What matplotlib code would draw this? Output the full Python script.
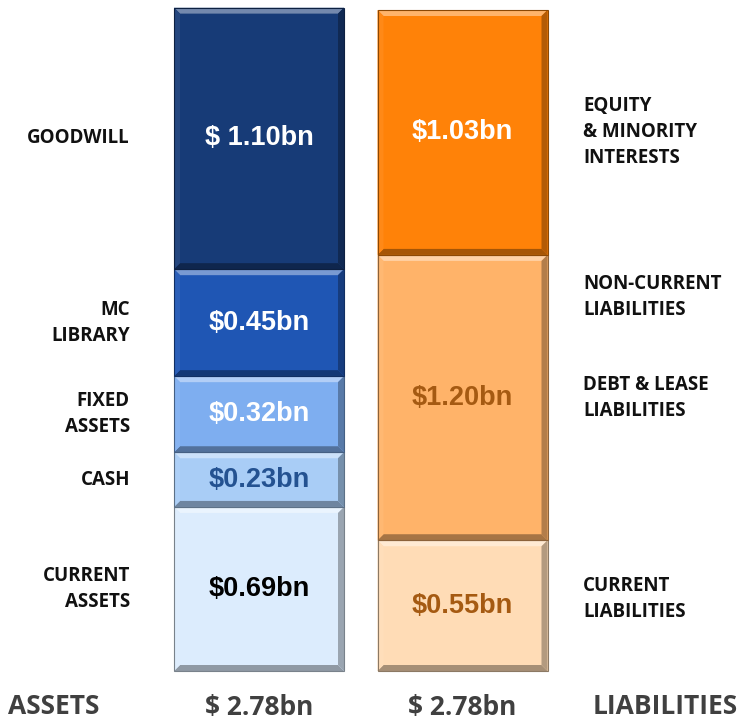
import numpy as np
import matplotlib
matplotlib.use("Agg")
import matplotlib.pyplot as plt
from matplotlib.patches import Polygon
from matplotlib.colors import to_rgb

# data
asset_names = ["CURRENT\nASSETS", "CASH", "FIXED\nASSETS", "MC\nLIBRARY", "GOODWILL"]
asset_values = [0.69, 0.23, 0.32, 0.45, 1.10]
asset_colors = ["#dcecfd", "#a9cdf6", "#7eaef0", "#1f56b4", "#173b77"]
asset_text_colors = ["#000000", "#245291", "#ffffff", "#ffffff", "#ffffff"]
asset_value_labels = ["$0.69bn", "$0.23bn", "$0.32bn", "$0.45bn", "$ 1.10bn"]

liab_values = [0.55, 1.20, 1.03]
liab_colors = ["#ffdcb6", "#ffb369", "#ff8208"]
liab_text_colors = ["#a55a12", "#a55a12", "#ffffff"]
liab_value_labels = ["$0.55bn", "$1.20bn", "$1.03bn"]
liab_names = ["CURRENT\nLIABILITIES", "DEBT & LEASE\nLIABILITIES", "EQUITY\n& MINORITY\nINTERESTS"]
extra_liab_label = "NON-CURRENT\nLIABILITIES"

total_label = "$ 2.78bn"

W, H = 740, 723
fig = plt.figure(figsize=(W / 100, H / 100), dpi=100)
ax = fig.add_axes([0, 0, 1, 1])

# pixel mapping: bar centres at 259 / 462.5 px, 0 at y=671 px, 2.78 at y=10 px
px_x = 203.5
px_y = (671 - 10) / 2.78
ax.set_xlim(-259 / px_x, (W - 259) / px_x)
ax.set_ylim(-(H - 671) / px_y, 2.78 + 10 / px_y)
ax.axis("off")

bar_w = 170 / px_x
bx, by = 6 / px_x, 6 / px_y


def mix(c, other, t):
    c = np.array(to_rgb(c))
    return tuple(c * (1 - t) + np.array(other) * t)


def bevel(rect, color):
    x0, y0 = rect.get_x(), rect.get_y()
    x1, y1 = x0 + rect.get_width(), y0 + rect.get_height()
    white, black = (1, 1, 1), (0, 0, 0)
    polys = [
        ([(x0, y1), (x1, y1), (x1 - bx, y1 - by), (x0 + bx, y1 - by)], mix(color, white, 0.4)),
        ([(x0, y0), (x1, y0), (x1 - bx, y0 + by), (x0 + bx, y0 + by)], mix(color, black, 0.35)),
        ([(x0, y0), (x0, y1), (x0 + bx, y1 - by), (x0 + bx, y0 + by)], mix(color, white, 0.06)),
        ([(x1, y0), (x1, y1), (x1 - bx, y1 - by), (x1 - bx, y0 + by)], mix(color, black, 0.3)),
    ]
    for pts, c in polys:
        ax.add_patch(Polygon(pts, closed=True, facecolor=c, edgecolor="none", zorder=3))
    ax.add_patch(plt.Rectangle((x0, y0), x1 - x0, y1 - y0, fill=False,
                               edgecolor=mix(color, black, 0.45), lw=0.8, zorder=4))


def stack(xpos, values, colors, texts, tcolors):
    bottoms = np.concatenate([[0], np.cumsum(values)[:-1]])
    bars = ax.bar([xpos] * len(values), values, bottom=bottoms, width=bar_w,
                  color=colors, edgecolor="none", zorder=2)
    for rect, c, t, tc in zip(bars, colors, texts, tcolors):
        bevel(rect, c)
        cy = rect.get_y() + rect.get_height() / 2
        ax.text(xpos, cy, t, ha="center", va="center", color=tc, fontsize=19.5,
                fontweight="bold", family="Liberation Sans", zorder=5)
    return bars


a_bars = stack(0, asset_values, asset_colors, asset_value_labels, asset_text_colors)
l_bars = stack(1, liab_values, liab_colors, liab_value_labels, liab_text_colors)

lab_font = dict(fontsize=13.5, fontweight="bold", family="Open Sans", color="#111111",
                linespacing=1.4)

left_x = (130 - 259) / px_x
for rect, name in zip(a_bars, asset_names):
    cy = rect.get_y() + rect.get_height() / 2
    ax.text(left_x, cy, name, ha="right", va="center", **lab_font)

right_x = (583 - 259) / px_x
liab_nudge = [7, 0, 0]  # px, labels sit slightly above centre in the original
for rect, name, nd in zip(l_bars, liab_names, liab_nudge):
    cy = rect.get_y() + rect.get_height() / 2 + nd / px_y
    ax.text(right_x, cy, name, ha="left", va="center", **lab_font)
mid = l_bars[1]
ax.text(right_x, mid.get_y() + mid.get_height() / 2 + 101 / px_y, extra_liab_label,
        ha="left", va="center", **lab_font)

bot_y = (671 - 707) / px_y
bot_font = dict(fontsize=19, fontweight="bold", family="Open Sans", color="#404040",
                va="center")
ax.text((8 - 259) / px_x, bot_y, "ASSETS", ha="left", **bot_font)
ax.text((738 - 259) / px_x, bot_y, "LIABILITIES", ha="right", **bot_font)
ax.text(0, bot_y, total_label, ha="center", **bot_font)
ax.text(1, bot_y, total_label, ha="center", **bot_font)

fig.savefig("out.png", dpi=100, facecolor="white")
